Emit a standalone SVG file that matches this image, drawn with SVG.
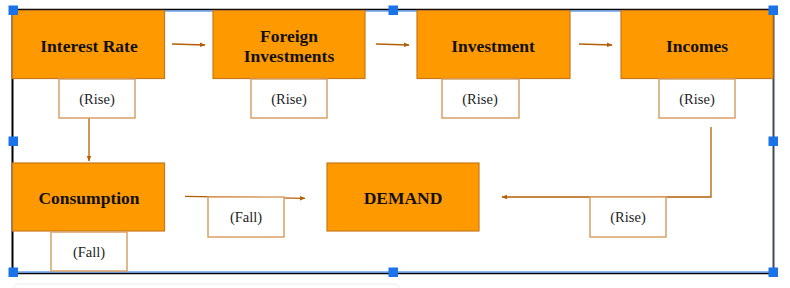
<svg xmlns="http://www.w3.org/2000/svg" width="790" height="288" viewBox="0 0 790 288">
<defs>
<style>
.main{fill:#ff9900;stroke:#c8781c;stroke-width:1.2}
.lbl{fill:#ffffff;stroke:#d9a066;stroke-width:1.5}
.t{font-family:"Liberation Serif","Times New Roman","DejaVu Serif",serif;font-weight:bold;font-size:17.5px;fill:#111;text-anchor:middle}
.s{font-family:"Liberation Serif","Times New Roman","DejaVu Serif",serif;font-size:14.5px;fill:#222;text-anchor:middle}
.c{fill:none;stroke:#b45f06;stroke-width:1.3}
.h{fill:#1a73e8}
</style>
<marker id="ah" viewBox="0 0 10 10" refX="9" refY="5" markerWidth="6" markerHeight="6" orient="auto" markerUnits="userSpaceOnUse">
<path d="M0,1 L10,5 L0,9 z" fill="#b45f06"/>
</marker>
</defs>
<rect width="790" height="288" fill="#ffffff"/>
<rect x="13" y="284" width="387" height="20" rx="6" fill="#ffffff" stroke="#ececec" stroke-width="1"/>

<g id="frame">
<line x1="12.5" y1="10" x2="12.5" y2="273" stroke="#000" stroke-width="2"/>
<line x1="773.5" y1="10" x2="773.5" y2="273" stroke="#444a55" stroke-width="2"/>
<line x1="13" y1="9.5" x2="773" y2="9.5" stroke="#000" stroke-width="1.5"/>
<line x1="13" y1="11" x2="773" y2="11" stroke="#1a73e8" stroke-width="1"/>
<line x1="13" y1="273.5" x2="773" y2="273.5" stroke="#000" stroke-width="1.5"/>
<line x1="13" y1="272" x2="773" y2="272" stroke="#1a73e8" stroke-width="1.2"/>
</g>

<g id="connectors">
<line class="c" x1="172" y1="44" x2="205" y2="45" marker-end="url(#ah)"/>
<line class="c" x1="376" y1="44" x2="409" y2="45" marker-end="url(#ah)"/>
<line class="c" x1="579" y1="44" x2="612" y2="45" marker-end="url(#ah)"/>
<line class="c" x1="89" y1="117" x2="89" y2="161" marker-end="url(#ah)"/>
<polyline class="c" points="711,127 711,197 502,197" marker-end="url(#ah)"/>
<line class="c" x1="185" y1="196.3" x2="305" y2="198.3" marker-end="url(#ah)"/>
</g>

<g id="interest-rate">
<rect class="main" x="12.5" y="10.5" width="152" height="68"/>
<text class="t" x="89" y="52">Interest Rate</text>
</g>
<g id="interest-rate-label">
<rect class="lbl" x="59" y="79" width="76" height="39"/>
<text class="s" x="97" y="104">(Rise)</text>
</g>

<g id="foreign-investments">
<rect class="main" x="213" y="10.5" width="152" height="68"/>
<text class="t" x="289" y="41.5">Foreign</text>
<text class="t" x="289" y="62">Investments</text>
</g>
<g id="foreign-investments-label">
<rect class="lbl" x="251" y="79" width="76" height="39"/>
<text class="s" x="289" y="104">(Rise)</text>
</g>

<g id="investment">
<rect class="main" x="417" y="10.5" width="153" height="68"/>
<text class="t" x="493" y="52">Investment</text>
</g>
<g id="investment-label">
<rect class="lbl" x="442" y="79" width="77" height="39"/>
<text class="s" x="480" y="104">(Rise)</text>
</g>

<g id="incomes">
<rect class="main" x="621" y="10.5" width="152" height="68"/>
<text class="t" x="697" y="52">Incomes</text>
</g>
<g id="incomes-label">
<rect class="lbl" x="659" y="79" width="76" height="39"/>
<text class="s" x="697" y="104">(Rise)</text>
</g>

<g id="consumption">
<rect class="main" x="12.5" y="163" width="152" height="68"/>
<text class="t" x="89" y="204">Consumption</text>
</g>
<g id="consumption-label">
<rect class="lbl" x="51" y="232" width="76" height="39"/>
<text class="s" x="89" y="257">(Fall)</text>
</g>

<g id="demand">
<rect class="main" x="327" y="163" width="152" height="68"/>
<text class="t" x="403" y="204">DEMAND</text>
</g>

<g id="fall-label">
<rect class="lbl" x="208" y="197" width="76" height="40"/>
<text class="s" x="246" y="222">(Fall)</text>
</g>
<g id="rise-label">
<rect class="lbl" x="590" y="197" width="76" height="40"/>
<text class="s" x="628" y="222">(Rise)</text>
</g>

<g id="handles">
<rect class="h" x="8.5" y="5.5" width="9.5" height="9.5"/>
<rect class="h" x="388.5" y="5.5" width="9.5" height="9.5"/>
<rect class="h" x="768.5" y="5.5" width="9.5" height="9.5"/>
<rect class="h" x="8.5" y="136.5" width="9.5" height="9.5"/>
<rect class="h" x="768.5" y="136.5" width="9.5" height="9.5"/>
<rect class="h" x="8.5" y="267.5" width="9.5" height="9.5"/>
<rect class="h" x="388.5" y="267.5" width="9.5" height="9.5"/>
<rect class="h" x="768.5" y="267.5" width="9.5" height="9.5"/>
</g>
</svg>
